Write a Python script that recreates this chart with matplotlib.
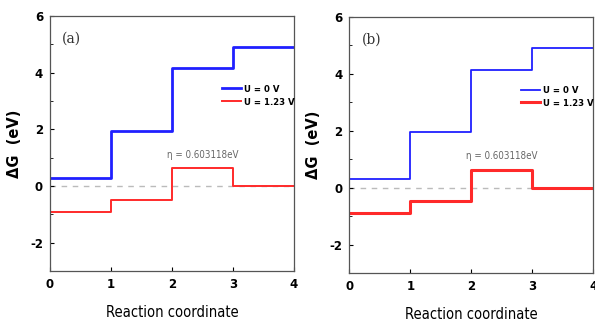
import matplotlib.pyplot as plt

plt.rcParams["axes.unicode_minus"] = False

steps = [0, 1, 2, 3, 4]
dg_0v = [0.30, 1.95, 4.15, 4.92]
dg_123v = [-0.90, -0.48, 0.63, 0.00]
eta_text = "η = 0.603118eV"
panels = ["(a)", "(b)"]


def step_line(vals):
    # repeat last value so the final step runs to x=4
    return vals + [vals[-1]]


fig = plt.figure(figsize=(5.95, 3.25), dpi=100)
boxes = [[0.084, 0.166, 0.410, 0.785], [0.587, 0.160, 0.410, 0.788]]
widths = [(2.0, 1.4), (1.3, 2.2)]

for box, label, (lw_b, lw_r) in zip(boxes, panels, widths):
    ax = fig.add_axes(box)
    ax.axhline(0, color="#bbbbbb", ls=(0, (4, 4)), lw=1.0, zorder=1)
    ax.step(steps, step_line(dg_0v), where="post", color="#2020ff", lw=lw_b, label="U = 0 V")
    ax.step(steps, step_line(dg_123v), where="post", color="#ff2a2a", lw=lw_r, label="U = 1.23 V")
    ax.set_xlim(0, 4)
    ax.set_ylim(-3, 6)
    ax.set_xticks(steps)
    ax.set_yticks([-2, 0, 2, 4, 6])
    ax.set_yticks([-1, 1, 3, 5], minor=True)
    ax.tick_params(direction="in", length=3, width=0.8, labelsize=8.5, pad=5)
    ax.tick_params(which="minor", direction="in", length=2, width=0.6)
    for t in ax.get_xticklabels() + ax.get_yticklabels():
        t.set_fontweight("bold")
    for s in ax.spines.values():
        s.set_color("#555555")
        s.set_linewidth(0.9)
    ax.set_xlabel("Reaction coordinate", fontsize=10.5, fontstretch="condensed", labelpad=10)
    ax.set_ylabel("ΔG  (eV)", fontsize=10.5, fontweight="bold", labelpad=6)
    ax.text(0.2, 5.2, label, fontsize=10, family="DejaVu Serif", color="#333333", va="center")
    ax.text(2.5, 1.1, eta_text, fontsize=7, color="#666666", ha="center", va="center",
            fontstretch="condensed")
    ax.legend(loc="upper left", bbox_to_anchor=(0.69, 0.745), frameon=False,
              handlelength=2.0, handletextpad=0.3, labelspacing=0.4, borderaxespad=0,
              prop={"weight": "bold", "size": 6.8, "stretch": "condensed"})

fig.savefig("out.png", dpi=100)
